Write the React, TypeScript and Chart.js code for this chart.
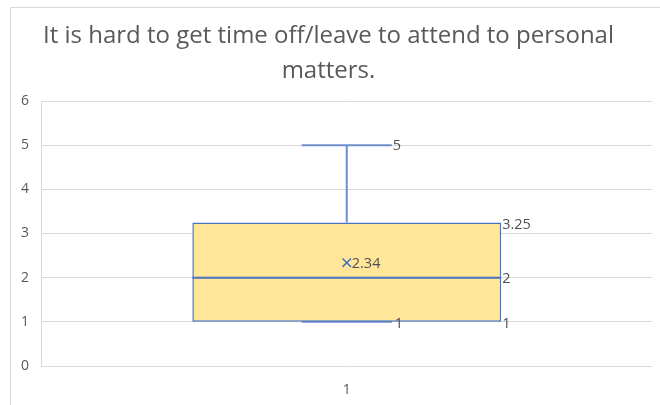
import React, { useEffect, useRef } from "react";
import { Chart, registerables } from "chart.js";

Chart.register(...registerables);

const titleLines = ["It is hard to get time off/leave to attend to personal", "matters."];
const categories = ["1"];
const minValues = [1];
const q1Values = [1];
const medianValues = [2];
const q3Values = [3.25];
const maxValues = [5];
const meanValues = [2.34];
const yMin = 0;
const yMax = 6;
const yStep = 1;

const BOX_FILL = "#FFE699";
const BOX_BORDER = "#4A72BE";
const WHISKER = "#6E8FCB";
const LABEL_COLOR = "#505050";
const AXIS_TEXT = "#595959";
const GRID = "#D9D9D9";
const FONT = "'Open Sans', Lato, sans-serif";

const fmt = (v: number) => String(v);

const framePlugin = {
  id: "frame",
  beforeDraw(chart: any) {
    const ctx = chart.ctx;
    ctx.save();
    ctx.fillStyle = "#FFFFFF";
    ctx.fillRect(0, 0, chart.width, chart.height);
    ctx.strokeStyle = GRID;
    ctx.lineWidth = 1;
    ctx.beginPath();
    ctx.moveTo(10.5, chart.height);
    ctx.lineTo(10.5, 7.5);
    ctx.lineTo(chart.width, 7.5);
    ctx.stroke();
    ctx.restore();
  },
};

const boxPlugin = {
  id: "boxExtras",
  beforeDatasetsDraw(chart: any) {
    const ctx = chart.ctx;
    const y = chart.scales.y;
    const meta = chart.getDatasetMeta(0);
    ctx.save();
    meta.data.forEach((bar: any, i: number) => {
      const { x, width } = bar.getProps(["x", "width"], true);
      const capHalf = width * 0.146;
      const pMax = y.getPixelForValue(maxValues[i]);
      const pQ3 = y.getPixelForValue(q3Values[i]);
      const pQ1 = y.getPixelForValue(q1Values[i]);
      const pMin = y.getPixelForValue(minValues[i]);
      ctx.strokeStyle = WHISKER;
      ctx.lineWidth = 2;
      ctx.beginPath();
      ctx.moveTo(x, pQ3);
      ctx.lineTo(x, pMax);
      ctx.moveTo(x - capHalf, pMax);
      ctx.lineTo(x + capHalf, pMax);
      ctx.moveTo(x, pQ1);
      ctx.lineTo(x, pMin);
      ctx.moveTo(x - capHalf, pMin);
      ctx.lineTo(x + capHalf, pMin);
      ctx.stroke();
    });
    ctx.restore();
  },
  afterDatasetsDraw(chart: any) {
    const ctx = chart.ctx;
    const y = chart.scales.y;
    const meta = chart.getDatasetMeta(0);
    ctx.save();
    meta.data.forEach((bar: any, i: number) => {
      const { x, width } = bar.getProps(["x", "width"], true);
      const left = x - width / 2;
      const right = x + width / 2;
      const capHalf = width * 0.146;
      const pMed = y.getPixelForValue(medianValues[i]);
      ctx.strokeStyle = BOX_BORDER;
      ctx.lineWidth = 2;
      ctx.beginPath();
      ctx.moveTo(left, pMed);
      ctx.lineTo(right, pMed);
      ctx.stroke();

      ctx.fillStyle = LABEL_COLOR;
      ctx.font = `14.5px ${FONT}`;
      ctx.textAlign = "left";
      ctx.textBaseline = "middle";
      ctx.fillText(fmt(maxValues[i]), x + capHalf + 1, y.getPixelForValue(maxValues[i]) + 1);
      ctx.fillText(fmt(q3Values[i]), right + 1, y.getPixelForValue(q3Values[i]) + 2);
      ctx.fillText(fmt(medianValues[i]), right + 1, pMed + 1);
      ctx.fillText(fmt(q1Values[i]), right + 1, y.getPixelForValue(q1Values[i]) + 2);
      ctx.fillText(fmt(minValues[i]), x + capHalf + 3, y.getPixelForValue(minValues[i]) + 2);
      ctx.fillText(fmt(meanValues[i]), x + 5, y.getPixelForValue(meanValues[i]) + 1);
    });
    ctx.restore();
  },
};

export default function App() {
  const canvasRef = useRef<HTMLCanvasElement | null>(null);

  useEffect(() => {
    document.body.style.margin = "0";
    const canvas = canvasRef.current;
    if (!canvas) return;
    const chart = new Chart(canvas, {
      type: "bar",
      data: {
        labels: categories,
        datasets: [
          {
            type: "bar",
            label: "Box",
            data: q1Values.map((q1, i) => [q1, q3Values[i]]) as any,
            backgroundColor: BOX_FILL,
            borderColor: BOX_BORDER,
            borderWidth: 1.5,
            borderSkipped: false,
            categoryPercentage: 1,
            barPercentage: 0.505,
            order: 2,
          },
          {
            type: "line",
            label: "Mean",
            data: meanValues,
            showLine: false,
            pointStyle: "crossRot",
            pointRadius: 6,
            pointBorderColor: BOX_BORDER,
            pointBorderWidth: 1.5,
            pointBackgroundColor: BOX_BORDER,
            order: 1,
          } as any,
        ],
      },
      options: {
        animation: false,
        responsive: true,
        maintainAspectRatio: false,
        layout: { padding: { left: 0, right: 3, top: 0, bottom: 0 } },
        plugins: {
          legend: { display: false },
          tooltip: { enabled: false },
          title: {
            display: true,
            text: titleLines,
            color: AXIS_TEXT,
            font: { family: FONT, size: 24, weight: "normal", lineHeight: 35 / 24 },
            padding: { top: 18.5, bottom: 12.5 },
          },
        },
        scales: {
          x: {
            type: "category",
            grid: { display: false, drawTicks: false },
            border: { display: false },
            ticks: { color: AXIS_TEXT, font: { family: FONT, size: 14 }, padding: 16 },
            afterFit: (scale: any) => {
              scale.height = 39;
            },
          },
          y: {
            min: yMin,
            max: yMax,
            grid: { color: GRID, lineWidth: 1, drawTicks: false },
            border: { display: true, color: GRID },
            ticks: { stepSize: yStep, color: AXIS_TEXT, font: { family: FONT, size: 14 }, padding: 12 },
            afterFit: (scale: any) => {
              scale.width = 41;
            },
          },
        },
      },
      plugins: [framePlugin, boxPlugin],
    });
    return () => chart.destroy();
  }, []);

  return (
    <div style={{ position: "relative", width: 660, height: 405 }}>
      <canvas ref={canvasRef} />
    </div>
  );
}
